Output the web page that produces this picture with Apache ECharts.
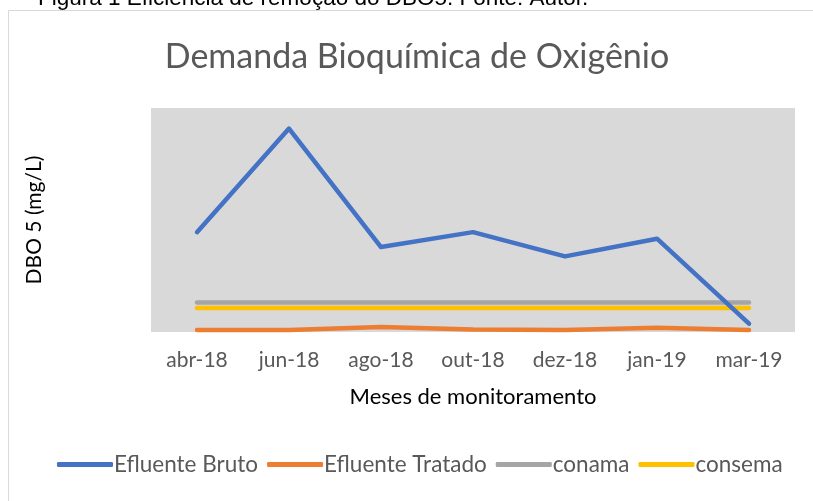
<!DOCTYPE html>
<html>
<head>
<meta charset="utf-8">
<script src="https://cdn.jsdelivr.net/npm/echarts@6/dist/echarts.min.js"></script>
<style>
  html, body { margin: 0; padding: 0; background: #fff; overflow: hidden; }
  #chart { width: 813px; height: 501px; }
</style>
</head>
<body>
<div id="chart"></div>
<script>
// monthly DBO5 readings (mg/L)
const months = ['abr-18', 'jun-18', 'ago-18', 'out-18', 'dez-18', 'jan-19', 'mar-19'];
const bruto = [535, 1090, 455, 535, 405, 500, 45];
const tratado = [11, 11, 27, 13, 11, 23, 11];
const conama = [158, 158, 158, 158, 158, 158, 158];
const consema = [128, 128, 128, 128, 128, 128, 128];

const font = 'Lato, "Open Sans", sans-serif';

function lineSeries(name, data, color, z) {
    return {
        name: name,
        type: 'line',
        data: data,
        z: z,
        symbol: 'none',
        lineStyle: { color: color, width: 4.5, cap: 'round', join: 'round' },
        itemStyle: { color: color }
    };
}

const chart = echarts.init(document.getElementById('chart'));

chart.setOption({
    animation: false,
    backgroundColor: '#fff',
    graphic: [
        // chart frame, only left and top edges are inside the picture
        {
            type: 'polyline',
            shape: { points: [[8.5, 501], [8.5, 10.5], [813, 10.5]] },
            style: { fill: 'none', stroke: '#d9d9d9', lineWidth: 1 },
            silent: true
        },
        {
            type: 'text',
            left: 38,
            top: -13,
            style: {
                text: 'Figura 1 Eficiência de remoção do DBO5. Fonte: Autor.',
                font: '22.5px "Liberation Sans", Arial, sans-serif',
                fill: '#000'
            }
        },
        {
            type: 'text',
            x: 417,
            y: 40,
            style: {
                text: 'Demanda Bioquímica de Oxigênio',
                font: '34px Lato, "Open Sans", sans-serif',
                fill: '#595959',
                textAlign: 'center'
            }
        }
    ],
    legend: {
        bottom: 20,
        left: 52,
        itemWidth: 56,
        itemHeight: 5,
        itemGap: 9,
        icon: 'roundRect',
        textStyle: { fontFamily: font, fontSize: 22.5, color: '#595959', padding: [0, 0, 0, -4] },
        data: ['Efluente Bruto', 'Efluente Tratado', 'conama', 'consema']
    },
    grid: { left: 151, right: 18, top: 108, bottom: 169, show: true, backgroundColor: '#d9d9d9', borderWidth: 0 },
    xAxis: {
        type: 'category',
        data: months,
        boundaryGap: true,
        axisLine: { show: false },
        axisTick: { show: false },
        axisLabel: { fontFamily: font, fontSize: 21, color: '#595959', margin: 18 },
        name: 'Meses de monitoramento',
        nameLocation: 'middle',
        nameGap: 54,
        nameTextStyle: { fontFamily: font, fontSize: 22, color: '#000' }
    },
    yAxis: {
        type: 'value',
        min: 0,
        max: 1200,
        interval: 200,
        splitLine: { show: false },
        axisLine: { show: false },
        axisTick: { show: false },
        axisLabel: { show: false },
        name: 'DBO 5 (mg/L)',
        nameLocation: 'middle',
        nameRotate: 90,
        nameGap: 106,
        nameTextStyle: { fontFamily: font, fontSize: 21, color: '#000' }
    },
    series: [
        lineSeries('Efluente Bruto', bruto, '#4472c4', 5),
        lineSeries('Efluente Tratado', tratado, '#ed7d31', 4),
        lineSeries('conama', conama, '#a5a5a5', 2),
        lineSeries('consema', consema, '#ffc000', 3)
    ]
});
</script>
</body>
</html>
